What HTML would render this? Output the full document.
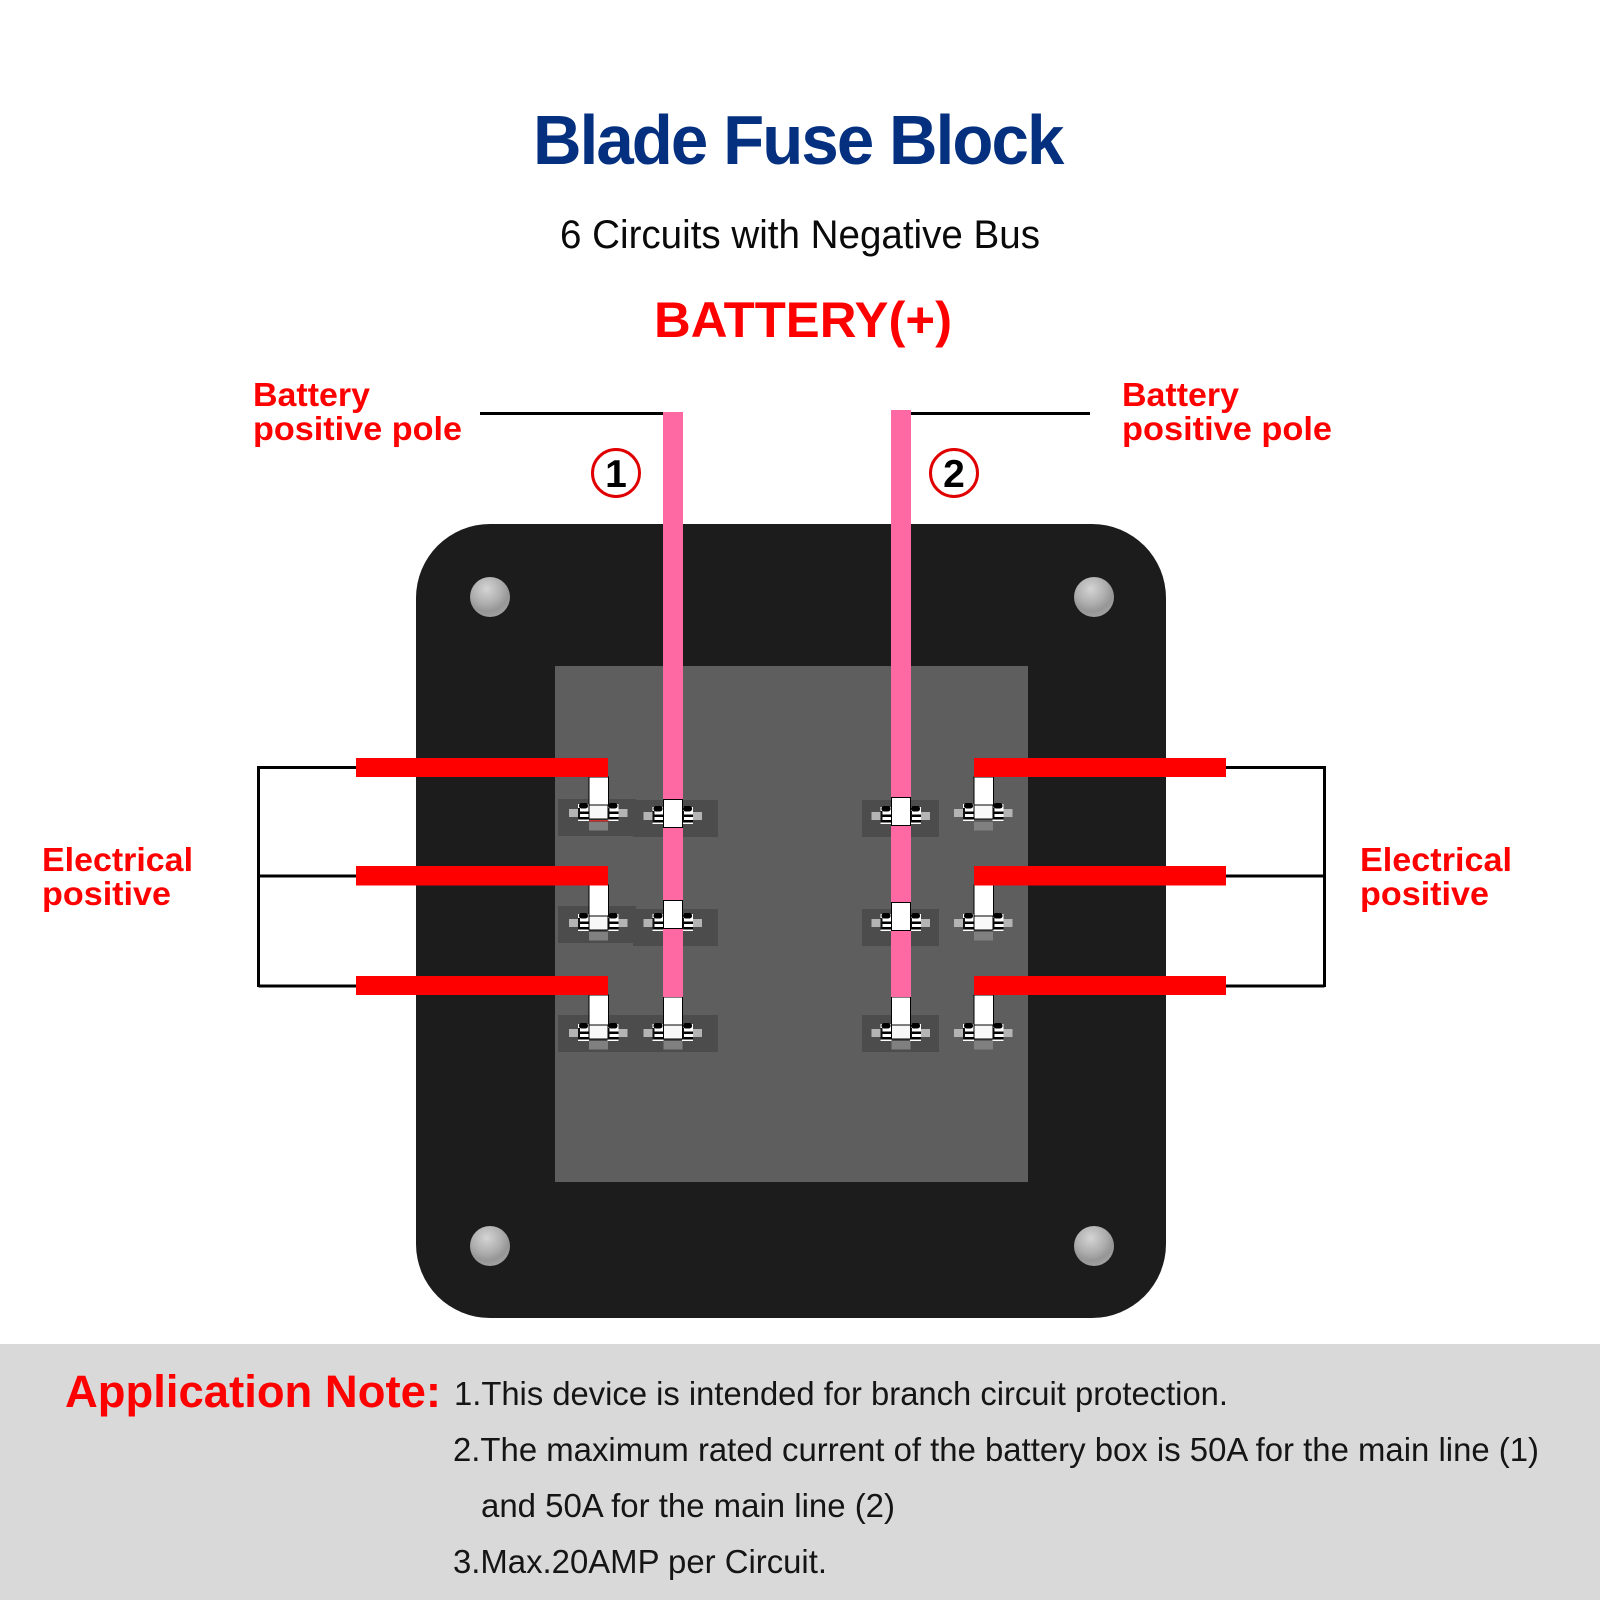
<!DOCTYPE html>
<html><head><meta charset="utf-8"><style>
html,body{margin:0;padding:0;background:#fff}
svg{display:block}
text{font-family:"Liberation Sans",Arial,sans-serif}
.r{fill:#fe0000;font-weight:bold;font-size:33.500px}
.n{fill:#151515;font-size:33px}
</style></head><body>
<svg width="1600" height="1600" viewBox="0 0 1600 1600" xmlns="http://www.w3.org/2000/svg">
<defs>
<radialGradient id="b" cx="42%" cy="30%" r="75%"><stop offset="0" stop-color="#d4d4d4"/><stop offset=".5" stop-color="#aeaeae"/><stop offset=".75" stop-color="#969696"/><stop offset="1" stop-color="#a4a4a4"/></radialGradient>
<g id="nut">
<rect x="0" y="-1" width="11" height="17" fill="#fff"/>
<rect x="1" y="-2" width="9" height="5.500" rx="2.500" fill="#000"/>
<rect x="0" y="6.500" width="11" height="2.500" fill="#000"/>
<rect x="0" y="12" width="11" height="2.500" fill="#000"/>
<rect x="0" y="3" width="2" height="11" fill="#111"/>
</g>
<g id="nuts">
<rect x="-29.500" y="4" width="9.500" height="8" fill="#b4b4b4"/>
<rect x="19.500" y="4" width="9.500" height="8" fill="#b4b4b4"/>
<use href="#nut" x="-20.500"/>
<use href="#nut" x="9"/>
</g>
<rect id="body" x="-9.500" y="0" width="19" height="14" fill="#f8f8f8" stroke="#000" stroke-width="1"/>
<rect id="block" x="-9.500" y="0" width="19" height="8.500" fill="#808080"/>
<g id="colA">
<use href="#nuts" x="0" y="805"/><use href="#nuts" x="0" y="915"/><use href="#nuts" x="0" y="1025"/>
<use href="#body" x="0" y="805"/><use href="#body" x="0" y="916"/><use href="#body" x="0" y="1025"/>
<use href="#block" x="0" y="822"/><use href="#block" x="0" y="932"/><use href="#block" x="0" y="1041"/>
</g>
<g id="colB">
<use href="#nuts" x="0" y="808"/><use href="#nuts" x="0" y="915"/><use href="#nuts" x="0" y="1025"/>
<use href="#body" x="0" y="1025"/><use href="#block" x="0" y="1041"/>
</g>
</defs>
<rect width="1600" height="1600" fill="#fff"/>

<text transform="translate(533,164) scale(.96,1)" font-size="70" font-weight="bold" fill="#04307f" letter-spacing="-2">Blade Fuse Block</text>
<text x="560" y="248" font-size="39.500" fill="#0a0a0a" textLength="480" lengthAdjust="spacingAndGlyphs">6 Circuits with Negative Bus</text>
<text x="654" y="337" font-size="50" font-weight="bold" fill="#fe0000" textLength="298" lengthAdjust="spacingAndGlyphs">BATTERY(+)</text>

<text class="r" x="253" y="406" textLength="117" lengthAdjust="spacingAndGlyphs">Battery</text>
<text class="r" x="253" y="440" textLength="209" lengthAdjust="spacingAndGlyphs">positive pole</text>
<text class="r" x="1122" y="406" textLength="117" lengthAdjust="spacingAndGlyphs">Battery</text>
<text class="r" x="1122" y="440" textLength="210" lengthAdjust="spacingAndGlyphs">positive pole</text>
<text class="r" x="42" y="871" textLength="151" lengthAdjust="spacingAndGlyphs">Electrical</text>
<text class="r" x="42" y="905" textLength="129" lengthAdjust="spacingAndGlyphs">positive</text>
<text class="r" x="1360" y="871" textLength="152" lengthAdjust="spacingAndGlyphs">Electrical</text>
<text class="r" x="1360" y="905" textLength="129" lengthAdjust="spacingAndGlyphs">positive</text>

<rect x="480" y="412" width="184" height="3" fill="#000"/>
<rect x="910" y="412" width="180" height="3" fill="#000"/>
<circle cx="616" cy="473" r="23.500" fill="#fff" stroke="#e00000" stroke-width="3"/>
<circle cx="954" cy="473" r="23.500" fill="#fff" stroke="#e00000" stroke-width="3"/>
<text x="616" y="487" font-size="39" font-weight="bold" text-anchor="middle" fill="#000">1</text>
<text x="954" y="487" font-size="39" font-weight="bold" text-anchor="middle" fill="#000">2</text>

<!-- board -->
<rect x="416" y="524" width="750" height="794" rx="74" ry="74" fill="#1c1c1c"/>
<rect x="555" y="666" width="473" height="516" fill="#5e5e5e"/>
<circle cx="490" cy="597" r="20" fill="url(#b)"/>
<circle cx="1094" cy="597" r="20" fill="url(#b)"/>
<circle cx="490" cy="1246" r="20" fill="url(#b)"/>
<circle cx="1094" cy="1246" r="20" fill="url(#b)"/>

<!-- terminal shadows -->
<g fill="#4c4c4c">
<rect x="558" y="799" width="78" height="37"/><rect x="558" y="906" width="78" height="37"/>
<rect x="633" y="800" width="85" height="37"/><rect x="633" y="909" width="85" height="37"/>
<rect x="558" y="1015" width="160" height="37"/>
<rect x="862" y="800" width="77" height="37"/><rect x="862" y="909" width="77" height="37"/><rect x="862" y="1015" width="77" height="37"/>
</g>

<!-- terminals -->
<use href="#colA" x="598.500" y="0"/>
<use href="#colA" x="983.500" y="0"/>
<use href="#colB" x="673" y="0"/>
<use href="#colB" x="901" y="0"/>
<rect x="589.500" y="820" width="19" height="1.500" fill="#c33"/>

<!-- white stems -->
<g fill="#fff" stroke="#000" stroke-width="1">
<rect x="589" y="777" width="19.500" height="28"/><rect x="589" y="885" width="19.500" height="31"/><rect x="589" y="995" width="19.500" height="30"/>
<rect x="974" y="777" width="19.500" height="28"/><rect x="974" y="885" width="19.500" height="31"/><rect x="974" y="995" width="19.500" height="30"/>
<rect x="663.500" y="997" width="19" height="28"/><rect x="891.500" y="997" width="19" height="28"/>
</g>

<!-- pink wires -->
<rect x="663" y="412" width="20" height="585" fill="#fe68a3"/>
<rect x="891" y="410" width="20" height="587" fill="#fe68a3"/>
<g fill="#fff" stroke="#000" stroke-width="1">
<rect x="663.500" y="799.500" width="19" height="28"/><rect x="663.500" y="900.500" width="19" height="28"/>
<rect x="891.500" y="797.500" width="19" height="28"/><rect x="891.500" y="902.500" width="19" height="28"/>
</g>

<!-- bus lines -->
<g fill="none" stroke="#000" stroke-width="3">
<path d="M356 767.500H258.500V987M258.500 876H356M258.500 986H356"/>
<path d="M1226 767.500H1324.500V987M1324.500 876H1226M1324.500 986H1226"/>
</g>

<!-- red wires -->
<g fill="#fe0000">
<rect x="356" y="758" width="252" height="19"/><rect x="356" y="866" width="252" height="19.500"/><rect x="356" y="976" width="252" height="19"/>
<rect x="974" y="758" width="252" height="19"/><rect x="974" y="866" width="252" height="19.500"/><rect x="974" y="976" width="252" height="19"/>
</g>

<!-- note band -->
<rect x="0" y="1344" width="1600" height="256" fill="#d9d9d9"/>
<text x="65" y="1407" font-size="45" font-weight="bold" fill="#fe0000" textLength="376" lengthAdjust="spacingAndGlyphs">Application Note:</text>
<text class="n" x="454" y="1405" textLength="774" lengthAdjust="spacingAndGlyphs">1.This device is intended for branch circuit protection.</text>
<text class="n" x="453" y="1461" textLength="1086" lengthAdjust="spacingAndGlyphs">2.The maximum rated current of the battery box is 50A for the main line (1)</text>
<text class="n" x="481" y="1517" textLength="414" lengthAdjust="spacingAndGlyphs">and 50A for the main line (2)</text>
<text class="n" x="453" y="1573" textLength="374" lengthAdjust="spacingAndGlyphs">3.Max.20AMP per Circuit.</text>
</svg>
</body></html>
